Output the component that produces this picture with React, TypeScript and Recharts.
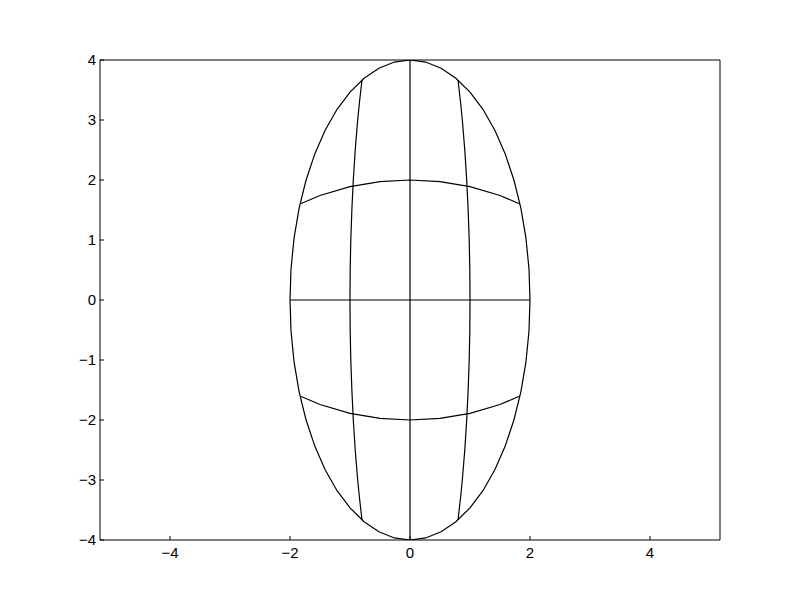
import React from 'react';
import { ComposedChart, Line, XAxis, YAxis } from 'recharts';

const xTicks = [-4, -2, 0, 2, 4];
const yTicks = [-4, -3, -2, -1, 0, 1, 2, 3, 4];

const ellipseX = [2, 1.983, 1.932, 1.848, 1.732, 1.587, 1.414, 1.218, 1.0, 0.765, 0.518, 0.261, 0,
  -0.261, -0.518, -0.765, -1.0, -1.218, -1.414, -1.587, -1.732, -1.848, -1.932, -1.983, -2,
  -1.983, -1.932, -1.848, -1.732, -1.587, -1.414, -1.218, -1.0, -0.765, -0.518, -0.261, 0,
  0.261, 0.518, 0.765, 1.0, 1.218, 1.414, 1.587, 1.732, 1.848, 1.932, 1.983, 2];
const ellipseY = [0, 0.522, 1.035, 1.531, 2.0, 2.435, 2.828, 3.174, 3.464, 3.696, 3.864, 3.966, 4,
  3.966, 3.864, 3.696, 3.464, 3.174, 2.828, 2.435, 2.0, 1.531, 1.035, 0.522, 0,
  -0.522, -1.035, -1.531, -2.0, -2.435, -2.828, -3.174, -3.464, -3.696, -3.864, -3.966, -4,
  -3.966, -3.864, -3.696, -3.464, -3.174, -2.828, -2.435, -2.0, -1.531, -1.035, -0.522, 0];

const horizX = [-2, 2];
const horizY = [0, 0];
const vertX = [0, 0];
const vertY = [-4, 4];

const meridianY = [-3.667, -3.3, -3, -2.5, -2, -1.5, -1, -0.5, 0, 0.5, 1, 1.5, 2, 2.5, 3, 3.3, 3.667];
const rightMeridianX = [0.8, 0.842, 0.872, 0.913, 0.945, 0.969, 0.987, 0.997, 1.0, 0.997, 0.987, 0.969, 0.945, 0.913, 0.872, 0.842, 0.8];
const leftMeridianX = [-0.8, -0.842, -0.872, -0.913, -0.945, -0.969, -0.987, -0.997, -1.0, -0.997, -0.987, -0.969, -0.945, -0.913, -0.872, -0.842, -0.8];

const parallelX = [-1.833, -1.5, -1, -0.5, 0, 0.5, 1, 1.5, 1.833];
const upperParallelY = [1.6, 1.742, 1.89, 1.973, 2, 1.973, 1.89, 1.742, 1.6];
const lowerParallelY = [-1.6, -1.742, -1.89, -1.973, -2, -1.973, -1.89, -1.742, -1.6];

const zip = (xs: number[], ys: number[]) => xs.map((x, i) => ({ x, y: ys[i] }));

const series = [
  zip(ellipseX, ellipseY),
  zip(horizX, horizY),
  zip(vertX, vertY),
  zip(rightMeridianX, meridianY),
  zip(leftMeridianX, meridianY),
  zip(parallelX, upperParallelY),
  zip(parallelX, lowerParallelY),
];

const fmt = (v: number) => String(v).replace('-', '\u2212');
const FONT = '"Liberation Sans", Arial, sans-serif';
const lineStyle = { stroke: '#000', strokeWidth: 1 };
const XD: [number, number] = [-5.1667, 5.1667];
const YD: [number, number] = [-4, 4];

const BottomTick = (props: any) => {
  const { x, y, payload } = props;
  return (
    <text x={x} y={y} dy="0.72em" textAnchor="middle" fontSize={15} fontFamily={FONT} fill="#000">
      {fmt(payload.value)}
    </text>
  );
};

const LeftTick = (props: any) => {
  const { x, y, payload } = props;
  return (
    <text x={x} y={y} dy="0.36em" textAnchor="end" fontSize={15} fontFamily={FONT} fill="#000">
      {fmt(payload.value)}
    </text>
  );
};

export default function App() {
  return (
    <div style={{ position: 'absolute', left: 0, top: 0, width: 800, height: 600, background: '#fff' }}>
      <ComposedChart width={800} height={600} margin={{ top: 59, right: 79, bottom: 59, left: 99 }}>
        <XAxis xAxisId="b" dataKey="x" type="number" domain={XD} allowDataOverflow ticks={xTicks}
          height={1} orientation="bottom" stroke="#000" axisLine={lineStyle} tickLine={lineStyle}
          tickSize={-4} tickMargin={11}
          tick={BottomTick} interval={0} />
        <XAxis xAxisId="t" dataKey="x" type="number" domain={XD} allowDataOverflow ticks={xTicks}
          height={1} orientation="top" stroke="#000" axisLine={lineStyle} tickLine={lineStyle}
          tickSize={-4} tick={false} interval={0} />
        <YAxis yAxisId="l" dataKey="y" type="number" domain={YD} allowDataOverflow ticks={yTicks}
          width={1} orientation="left" stroke="#000" axisLine={lineStyle} tickLine={lineStyle}
          tickSize={-4} tickMargin={8}
          tick={LeftTick} interval={0} />
        <YAxis yAxisId="r" dataKey="y" type="number" domain={YD} allowDataOverflow ticks={yTicks}
          width={1} orientation="right" stroke="#000" axisLine={lineStyle} tickLine={lineStyle}
          tickSize={-4} tick={false} interval={0} />
        {series.map((d, i) => (
          <Line key={i} data={d} xAxisId="b" yAxisId="l" dataKey="y" type="linear" stroke="#000"
            strokeWidth={1.2} dot={false} activeDot={false} isAnimationActive={false} />
        ))}
      </ComposedChart>
    </div>
  );
}
